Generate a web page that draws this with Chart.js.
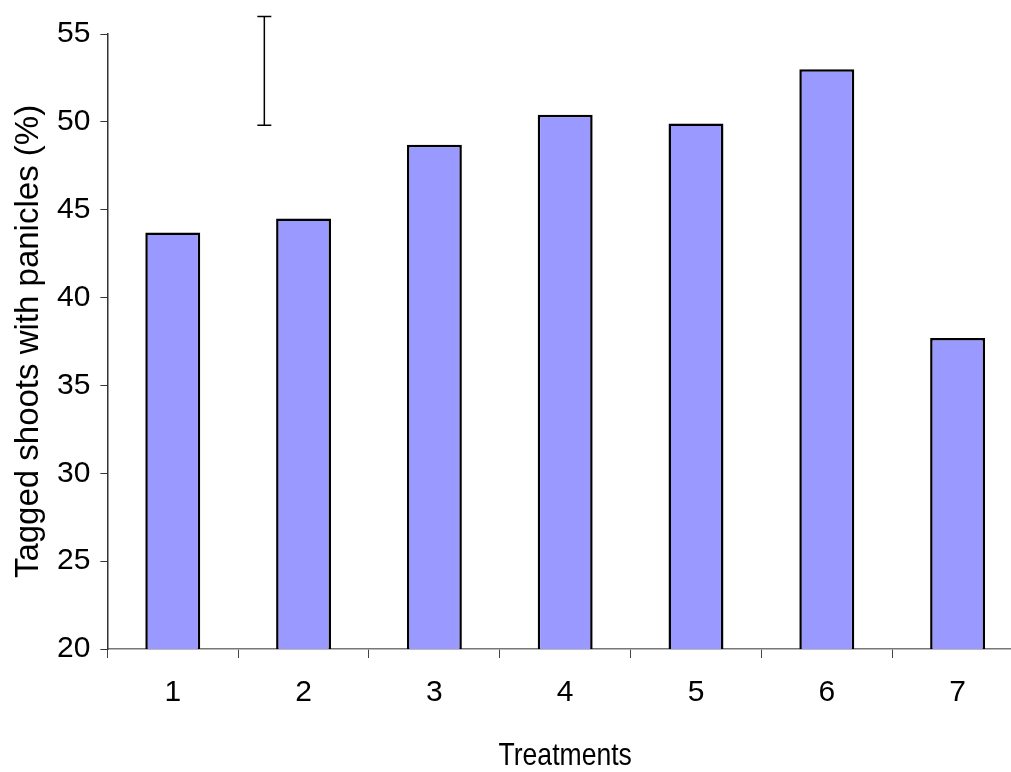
<!DOCTYPE html>
<html>
<head>
<meta charset="utf-8">
<script src="https://cdn.jsdelivr.net/npm/chart.js@4"></script>
<style>
  html, body { margin: 0; padding: 0; overflow: hidden; background: #fff; }
  #wrap { width: 1023px; height: 772px; }
</style>
</head>
<body>
<div id="wrap"><canvas id="panicleChart"></canvas></div>
<script>
// data
var treatments = ['1', '2', '3', '4', '5', '6', '7'];
var panicleShare = [43.7, 44.5, 48.7, 50.4, 49.9, 53.0, 37.7];
var yTicks = [20, 25, 30, 35, 40, 45, 50, 55];
// the single error bar (LSD style) sitting between treatments 1 and 2
var errPosition = 0.7;   // in category index units
var errLow = 49.8;
var errHigh = 56.0;
var xTitle = 'Treatments';

var errorBarPlugin = {
    id: 'errorBar',
    afterDatasetsDraw: function(chart) {
        var x = chart.scales.x.getPixelForValue(errPosition);
        var yTop = chart.scales.y.getPixelForValue(errHigh);
        var yBot = chart.scales.y.getPixelForValue(errLow);
        var c = chart.ctx;
        c.save();
        c.strokeStyle = '#000';
        c.lineWidth = 1.5;
        c.beginPath();
        c.moveTo(x, yTop); c.lineTo(x, yBot);
        c.moveTo(x - 7, yTop); c.lineTo(x + 7, yTop);
        c.moveTo(x - 7, yBot); c.lineTo(x + 7, yBot);
        c.stroke();
        c.restore();
    }
};

// x title is drawn a bit condensed, like the original
var xTitlePlugin = {
    id: 'xTitle',
    afterDraw: function(chart) {
        var area = chart.chartArea;
        var cx = (area.left + area.right) / 2;
        var c = chart.ctx;
        c.save();
        c.translate(cx, 756);
        c.scale(0.83, 1);
        c.fillStyle = '#000';
        c.font = '32px "Liberation Sans", Arial, sans-serif';
        c.textAlign = 'center';
        c.textBaseline = 'middle';
        c.fillText(xTitle, 0, 0);
        c.restore();
    }
};

var ctx = document.getElementById('panicleChart').getContext('2d');
var panicleChart = new Chart(ctx, {
    type: 'bar',
    data: {
        labels: treatments,
        datasets: [{
            data: panicleShare,
            backgroundColor: '#9999FF',
            borderColor: '#000000',
            borderWidth: 2.5,
            barPercentage: 0.42,
            categoryPercentage: 1.0
        }]
    },
    options: {
        responsive: true,
        maintainAspectRatio: false,
        animation: false,
        layout: {
            padding: { left: 12, top: 34, right: 0, bottom: 44 }
        },
        plugins: {
            legend: { display: false },
            tooltip: { enabled: false }
        },
        scales: {
            x: {
                grid: {
                    display: true,
                    drawOnChartArea: false,
                    drawTicks: true,
                    tickLength: 9,
                    color: '#444'
                },
                border: { display: true, color: '#777', width: 1.5 },
                ticks: {
                    color: '#000',
                    padding: 17,
                    font: { family: 'Liberation Sans, Arial, sans-serif', size: 30 }
                },
                title: { display: false }
            },
            y: {
                min: 20,
                max: 55,
                afterBuildTicks: function(scale) {
                    scale.ticks = yTicks.map(function(v) { return { value: v }; });
                },
                grid: {
                    display: true,
                    drawOnChartArea: false,
                    drawTicks: true,
                    tickLength: 7,
                    color: '#333'
                },
                border: { display: true, color: '#333', width: 1.5 },
                ticks: {
                    color: '#000',
                    padding: 10,
                    font: { family: 'Liberation Sans, Arial, sans-serif', size: 30 }
                },
                title: {
                    display: true,
                    text: 'Tagged shoots with panicles (%)',
                    color: '#000',
                    padding: { top: 0, bottom: 2 },
                    font: { family: 'Liberation Sans, Arial, sans-serif', size: 33, lineHeight: 1 }
                }
            }
        }
    },
    plugins: [errorBarPlugin, xTitlePlugin]
});
</script>
</body>
</html>
